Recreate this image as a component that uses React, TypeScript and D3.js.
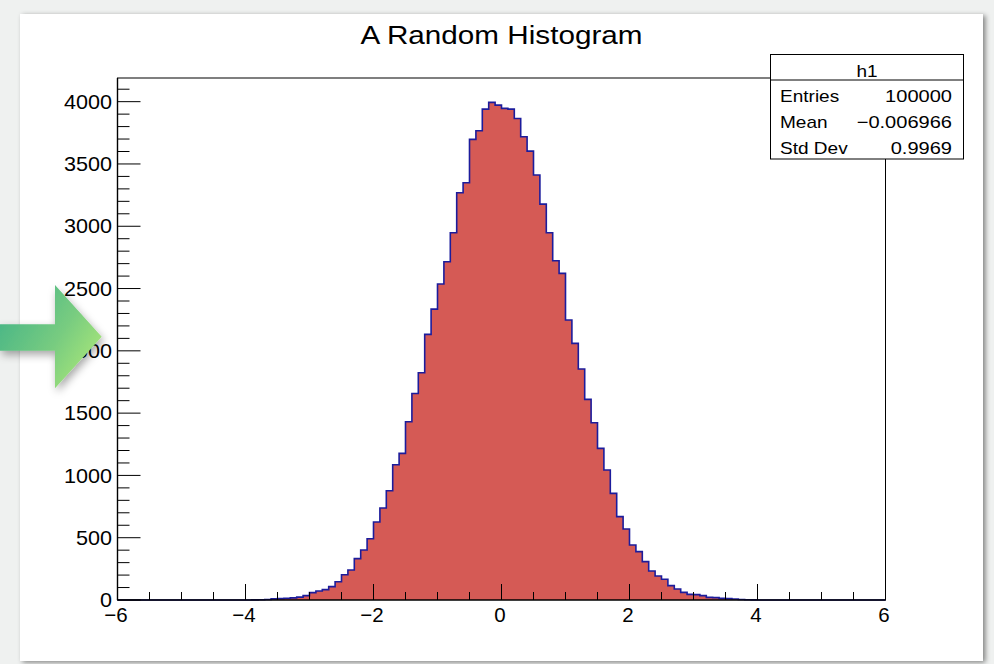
import React from "react";
import * as d3 from "d3";

// ---- data ----
const title = "A Random Histogram";
const xMin = -6;
const xMax = 6;
const yTop = 4190;
// 120 bins of width 0.1 from -6 to 6
const binCounts: number[] = [
  0, 0, 0, 0, 0, 0, 0, 0, 0, 0,
  0, 0, 0, 0, 0, 0, 0, 0, 0, 0,
  0, 1, 2, 4, 9, 11, 14, 17, 23, 35,
  59, 72, 83, 107, 147, 203, 241, 332, 401, 492,
  626, 738, 877, 1086, 1177, 1431, 1658, 1824, 2132, 2335,
  2536, 2715, 2948, 3269, 3349, 3697, 3766, 3940, 3994, 3972,
  3946, 3940, 3865, 3718, 3603, 3411, 3178, 2948, 2723, 2622,
  2247, 2060, 1854, 1610, 1423, 1217, 1043, 856, 669, 570,
  441, 388, 308, 233, 193, 166, 115, 88, 61, 45,
  43, 35, 21, 19, 13, 11, 8, 4, 2, 1,
  0, 0, 0, 0, 0, 0, 0, 0, 0, 0,
  0, 0, 0, 0, 0, 0, 0, 0, 0, 0,
];
const xMajorTicks = [-6, -4, -2, 0, 2, 4, 6];
const xTickLabels = ["\u22126", "\u22124", "\u22122", "0", "2", "4", "6"];
const yMajorTicks = [0, 500, 1000, 1500, 2000, 2500, 3000, 3500, 4000];
const statsName = "h1";
const statsLabels = ["Entries", "Mean", "Std Dev"];
const statsValues = ["100000", "\u22120.006966", "0.9969"];

const W = 994;
const H = 664;
const FONT = "'Liberation Sans', Arial, Helvetica, sans-serif";

export default function App() {
  const x = d3.scaleLinear().domain([xMin, xMax]).range([117.5, 885.5]);
  const y = d3.scaleLinear().domain([0, yTop]).range([600, 78]);
  const nb = binCounts.length;
  const bw = (xMax - xMin) / nb;
  const pts: [number, number][] = binCounts.map((c, i) => [xMin + i * bw, c]);
  pts.push([xMax, binCounts[nb - 1]]);

  const area = d3
    .area<[number, number]>()
    .x((d) => x(d[0]))
    .y0(y(0))
    .y1((d) => y(d[1]))
    .curve(d3.curveStepAfter);
  const line = d3
    .line<[number, number]>()
    .x((d) => x(d[0]))
    .y((d) => y(d[1]))
    .curve(d3.curveStepAfter);

  const xMinor = d3.range(xMin, xMax + 0.001, 0.5).filter((v) => !xMajorTicks.includes(v));
  const yMinor = d3.range(0, yTop, 100).filter((v) => v % 500 !== 0);

  const [x0, x1] = x.range();
  const [yb, yt] = y.range();

  const boxX = 770.5;
  const boxY = 54.5;
  const boxW = 193;
  const boxH = 104.5;
  const rowBase = [101.5, 127.5, 154];

  return (
    <svg
      width={W}
      height={H}
      viewBox={`0 0 ${W} ${H}`}
      style={{ position: "absolute", left: 0, top: 0, display: "block" }}
      fontFamily={FONT}
    >
      <defs>
        <filter id="panelShadow" x="-5%" y="-5%" width="110%" height="110%">
          <feDropShadow dx="2.5" dy="1.5" stdDeviation="2.5" floodColor="#000" floodOpacity="0.45" />
        </filter>
        <filter id="arrowShadow" x="-20%" y="-20%" width="150%" height="150%">
          <feDropShadow dx="2" dy="4" stdDeviation="4" floodColor="#000" floodOpacity="0.35" />
        </filter>
        <linearGradient id="arrowGrad" x1="0" y1="0.2" x2="1" y2="0.85">
          <stop offset="0" stopColor="#45b487" />
          <stop offset="0.55" stopColor="#78cc80" />
          <stop offset="1" stopColor="#b0ea78" />
        </linearGradient>
      </defs>

      <rect x={0} y={0} width={W} height={H} fill="#eff1f0" />
      <rect x={20} y={14} width={963} height={647} fill="#ffffff" filter="url(#panelShadow)" />

      {/* title */}
      <text
        transform={`translate(${(x0 + x1) / 2},44) scale(1.12,1)`}
        textAnchor="middle"
        fontSize={26.5}
        fill="#000"
      >
        {title}
      </text>

      {/* histogram */}
      <path d={area(pts) || ""} fill="#d55a55" />
      <path d={line(pts) || ""} fill="none" stroke="#1c1c9c" strokeWidth={1.6} />

      {/* frame */}
      <rect x={x0} y={yt} width={x1 - x0} height={yb - yt} fill="none" stroke="#000" strokeWidth={1} />
      <line x1={x0} x2={x0} y1={yt} y2={yb} stroke="#000" strokeWidth={1.4} />
      <line x1={x0} x2={x1} y1={yb} y2={yb} stroke="#000" strokeWidth={1.2} />

      {/* x ticks */}
      {xMinor.map((v) => (
        <line key={"xm" + v} x1={x(v)} x2={x(v)} y1={yb} y2={yb - 8} stroke="#000" strokeWidth={1} />
      ))}
      {xMajorTicks.map((v, i) => (
        <g key={"xM" + v}>
          <line x1={x(v)} x2={x(v)} y1={yb} y2={yb - 16} stroke="#000" strokeWidth={1} />
          <text x={x(v) - 1.5} y={621.5} textAnchor="middle" fontSize={20.5} fill="#000">
            {xTickLabels[i]}
          </text>
        </g>
      ))}

      {/* y ticks */}
      {yMinor.map((v) => (
        <line key={"ym" + v} x1={x0} x2={x0 + 12} y1={y(v)} y2={y(v)} stroke="#000" strokeWidth={1} />
      ))}
      {yMajorTicks.map((v) => (
        <g key={"yM" + v}>
          <line x1={x0} x2={x0 + 23} y1={y(v)} y2={y(v)} stroke="#000" strokeWidth={1} />
          <text
            transform={`translate(112,${y(v) + 7.2}) scale(1.08,1)`}
            textAnchor="end"
            fontSize={20}
            fill="#000"
          >
            {v}
          </text>
        </g>
      ))}

      {/* stats box */}
      <rect x={boxX} y={boxY} width={boxW} height={boxH} fill="#fff" stroke="#000" strokeWidth={1} />
      <line x1={boxX} x2={boxX + boxW} y1={80} y2={80} stroke="#000" strokeWidth={1} />
      <text
        transform={`translate(${boxX + boxW / 2},77) scale(1.12,1)`}
        textAnchor="middle"
        fontSize={17}
        fill="#000"
      >
        {statsName}
      </text>
      {statsLabels.map((lab, i) => (
        <g key={lab}>
          <text transform={`translate(780,${rowBase[i]}) scale(1.12,1)`} fontSize={17} fill="#000">
            {lab}
          </text>
          <text
            transform={`translate(952,${rowBase[i]}) scale(1.18,1)`}
            textAnchor="end"
            fontSize={17}
            fill="#000"
          >
            {statsValues[i]}
          </text>
        </g>
      ))}

      {/* decorative arrow */}
      <polygon
        points="0,324.3 55,324.3 55,285 101.7,336.7 55,388.3 55,350.7 0,350.7"
        fill="url(#arrowGrad)"
        filter="url(#arrowShadow)"
      />
    </svg>
  );
}
